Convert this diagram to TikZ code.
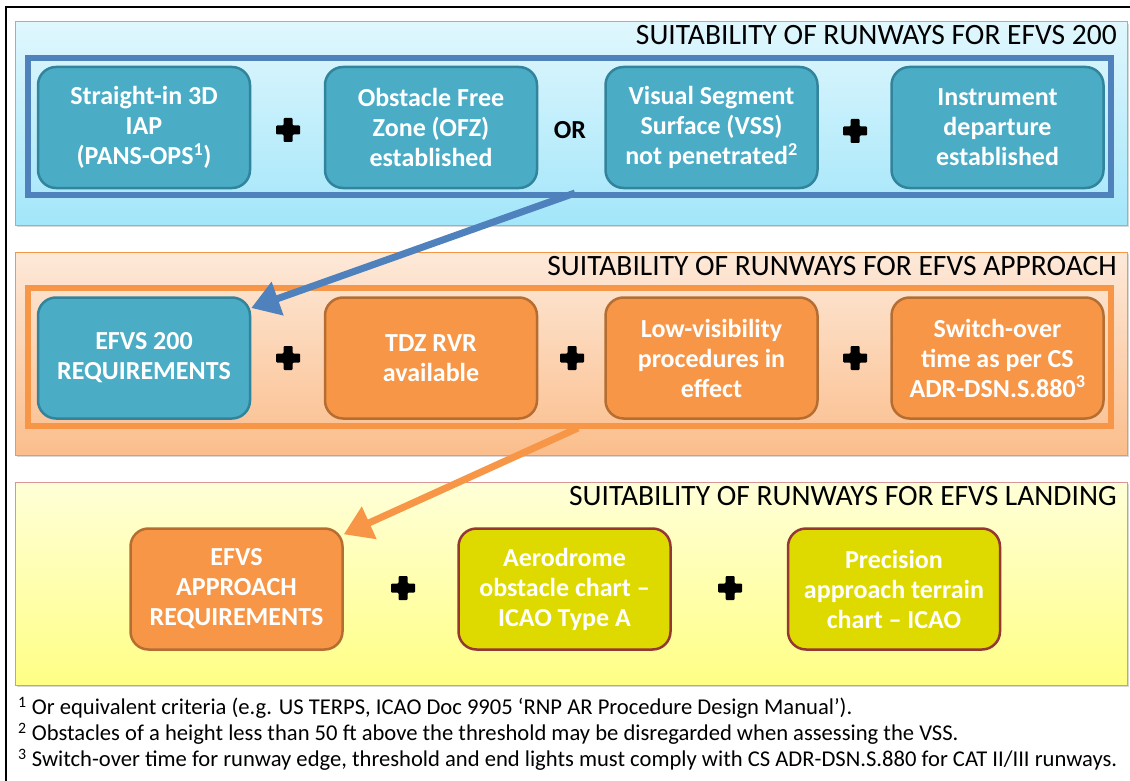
\documentclass[tikz,border=0pt]{standalone}
\usepackage{fontspec}
\setmainfont{Carlito}
\usetikzlibrary{shadows,arrows.meta,calc}
\definecolor{cTeal}{HTML}{4BACC6}
\definecolor{cTealD}{HTML}{31849B}
\definecolor{cOrange}{HTML}{F79646}
\definecolor{cOrangeD}{HTML}{B66D31}
\definecolor{cYellow}{HTML}{DEDA00}
\definecolor{cYellowD}{HTML}{953735}
\definecolor{cBlue}{HTML}{4F81BD}
\definecolor{pBlueT}{HTML}{E0F7FD}
\definecolor{pBlueB}{HTML}{A3E6FA}
\definecolor{pBlueL}{HTML}{6CC3DA}
\definecolor{pOrT}{HTML}{FDE9D9}
\definecolor{pOrB}{HTML}{FBBE8C}
\definecolor{pYeT}{HTML}{FFFFD8}
\definecolor{pYeB}{HTML}{FFFF85}
\definecolor{pYeL}{HTML}{D99694}
\newcommand\boxfont{\bfseries\fontsize{26}{30}\selectfont}
\newcommand\ttlfont{\fontsize{29.5}{32}\selectfont}
\newcommand\fnfont{\fontsize{22.6}{26}\selectfont}
\begin{document}
\begin{tikzpicture}[x=1pt,y=-1pt,
  panel/.style={draw=#1, line width=1pt, drop shadow={opacity=0.3,shadow xshift=2pt,shadow yshift=-2pt}},
  frame/.style={draw=#1, line width=6pt},
  ttl/.style={anchor=east, font=\ttlfont, text=black, inner sep=0pt},
  box/.style={rounded corners=18pt, minimum width=212pt, minimum height=121pt, line width=2.5pt, align=center, text=white, font=\boxfont, inner sep=2pt},
  tealbox/.style={box, fill=cTeal, draw=cTealD},
  orangebox/.style={box, fill=cOrange, draw=cOrangeD},
  yellowbox/.style={box, fill=cYellow, draw=cYellowD},
  fnote/.style={anchor=west, font=\fnfont, inner sep=0pt},
  plusmark/.pic={\fill[black, rounded corners=1pt] (-12,-4.5) -- (-4.5,-4.5) -- (-4.5,-12) -- (4.5,-12) -- (4.5,-4.5) -- (12,-4.5) -- (12,4.5) -- (4.5,4.5) -- (4.5,12) -- (-4.5,12) -- (-4.5,4.5) -- (-12,4.5) -- cycle;},
  bluearrow/.style={draw=cBlue, line width=7pt, -{Triangle[length=28pt,width=34pt]}},
  orangearrow/.style={draw=cOrange, line width=7pt, -{Triangle[length=28pt,width=34pt]}}
]
\useasboundingbox (0,0) rectangle (1130,781);
\fill[white] (0,0) rectangle (1130,781);
\draw[black, line width=2pt] (1130,7) -- (6,7) -- (6,781);

% panels
\draw[panel=pBlueL, top color=pBlueT, bottom color=pBlueB] (15,22) rectangle (1127,225);
\draw[panel=cOrange, top color=pOrT, bottom color=pOrB] (15,252) rectangle (1127,455);
\draw[panel=pYeL, top color=pYeT, bottom color=pYeB] (15,482) rectangle (1127,685);

\node[ttl] (t1) at (1117,35) {SUITABILITY OF RUNWAYS FOR EFVS 200};
\node[ttl] (t2) at (1117,266) {SUITABILITY OF RUNWAYS FOR EFVS APPROACH};
\node[ttl] (t3) at (1117,496) {SUITABILITY OF RUNWAYS FOR EFVS LANDING};

\draw[frame=cBlue] (28,58) rectangle (1111,195);
\draw[frame=cOrange] (28,288) rectangle (1111,426);

% row 1
\node[tealbox] (b11) at (144,127.5) {Straight-in 3D\\IAP\\(PANS-OPS\textsuperscript{1})};
\node[tealbox] (b12) at (431,127.5) {Obstacle Free\\Zone (OFZ)\\established};
\node[tealbox] (b13) at (711.5,127.5) {Visual Segment\\Surface (VSS)\\not penetrated\textsuperscript{2}};
\node[tealbox] (b14) at (997.5,127.5) {Instrument\\departure\\established};
\pic at (288,130) {plusmark};
\node[font=\boxfont, text=black] (or) at (570,130) {OR};
\pic at (855,131) {plusmark};

% row 2
\node[tealbox] (b21) at (144,358) {EFVS 200\\REQUIREMENTS};
\node[orangebox] (b22) at (431,358) {TDZ RVR\\available};
\node[orangebox] (b23) at (711.5,358) {Low-visibility\\procedures in\\effect};
\node[orangebox] (b24) at (997.5,358) {Switch-over\\time as per CS\\ADR-DSN.S.880\textsuperscript{3}};
\pic at (288,358) {plusmark};
\pic at (572,358) {plusmark};
\pic at (855,358) {plusmark};

% row 3
\node[orangebox] (b31) at (236.5,589) {EFVS\\APPROACH\\REQUIREMENTS};
\node[yellowbox] (b32) at (564.5,589) {Aerodrome\\obstacle chart –\\ICAO Type A};
\node[yellowbox] (b33) at (894,589) {Precision\\approach terrain\\chart – ICAO};
\pic at (403,588) {plusmark};
\pic at (730,588) {plusmark};

% arrows
\coordinate (s1) at (575,193);
\coordinate (s2) at (578,428);
\draw[bluearrow] (s1) -- (b21.25);
\draw[orangearrow] (s2) -- (b31.27);

% footnotes
\node[fnote] (f1) at (18,708) {\textsuperscript{1} Or equivalent criteria (e.g. US TERPS, ICAO Doc 9905 ‘RNP AR Procedure Design Manual’).};
\node[fnote] (f2) at (18,734) {\textsuperscript{2} Obstacles of a height less than 50 ft above the threshold may be disregarded when assessing the VSS.};
\node[fnote] (f3) at (18,760) {\textsuperscript{3} Switch-over time for runway edge, threshold and end lights must comply with CS ADR-DSN.S.880 for CAT II/III runways.};
\end{tikzpicture}
\end{document}
